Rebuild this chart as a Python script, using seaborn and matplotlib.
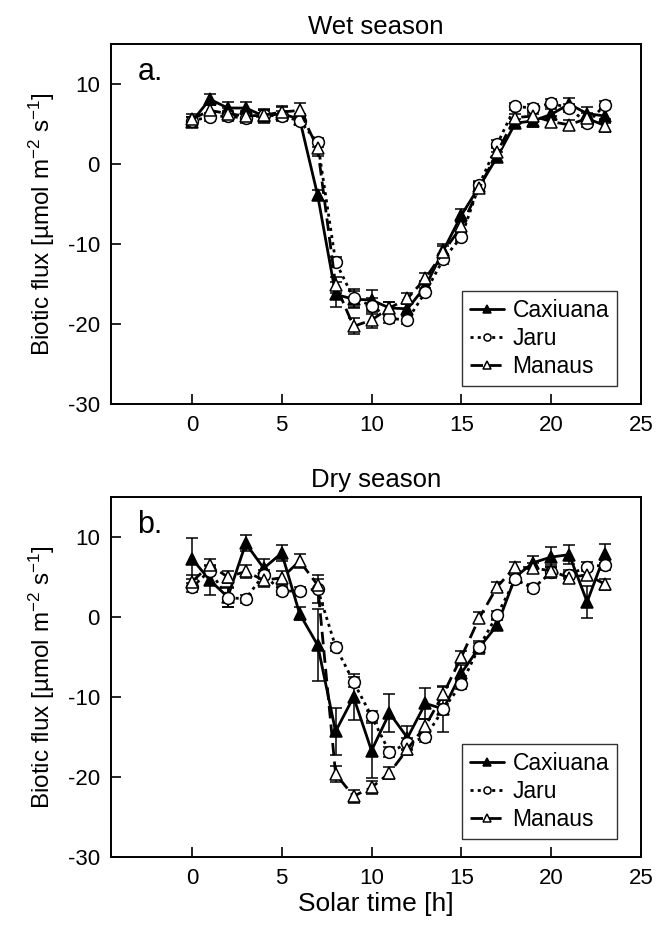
import matplotlib
matplotlib.use("Agg")
import matplotlib.pyplot as plt
import numpy as np
import pandas as pd
import seaborn as sns

hours = list(range(24))

# wet season (a.)
wet_caxiuana = [5.3, 8.1, 7.0, 7.0, 6.0, 6.3, 5.6, -3.9, -16.3, -16.9, -17.0, -18.0, -18.1, -15.3,
                -10.8, -6.4, -2.8, 0.9, 5.1, 5.4, 6.2, 7.5, 6.3, 6.0]
wet_caxiuana_err = [0.6, 0.7, 0.8, 0.8, 0.9, 0.8, 0.6, 0.6, 1.6, 1.0, 1.2, 0.8, 0.6, 0.7,
                    0.8, 0.8, 0.6, 0.6, 0.5, 0.8, 0.7, 0.7, 0.8, 0.9]
wet_jaru = [5.4, 5.9, 6.0, 5.7, 6.1, 6.0, 5.4, 2.7, -12.2, -16.8, -17.7, -19.3, -19.5, -16.0,
            -11.9, -9.1, -2.6, 2.5, 7.2, 7.0, 7.6, 7.0, 5.1, 7.4]
wet_jaru_err = [0.5, 0.5, 0.6, 0.6, 0.7, 0.6, 0.5, 0.6, 0.6, 1.2, 1.0, 0.6, 0.5, 0.5,
                0.6, 0.5, 0.5, 0.5, 0.4, 0.5, 0.5, 0.5, 0.5, 0.5]
wet_manaus = [5.6, 6.7, 6.3, 6.0, 6.1, 6.5, 6.7, 2.0, -15.1, -20.3, -19.5, -18.0, -16.8, -14.3,
              -11.0, -7.8, -3.0, 1.5, 5.8, 6.0, 5.3, 4.9, 5.7, 4.8]
wet_manaus_err = [0.6, 0.7, 0.7, 0.6, 0.7, 0.8, 0.9, 1.0, 1.0, 1.0, 1.0, 0.8, 0.7, 0.7,
                  0.7, 0.7, 0.6, 0.6, 0.5, 0.7, 0.7, 0.6, 0.7, 0.8]

# dry season (b.)
dry_caxiuana = [7.3, 4.6, 2.5, 9.2, 6.1, 8.0, 0.4, -3.5, -14.3, -10.0, -16.7, -12.0, -15.1, -10.8,
                -11.5, -7.0, -3.8, -1.0, 5.0, 6.8, 7.5, 7.8, 1.9, 7.9]
dry_caxiuana_err = [2.6, 1.9, 1.2, 1.0, 1.2, 1.0, 0.8, 4.5, 2.9, 2.9, 3.4, 2.4, 1.5, 1.9,
                    2.9, 1.0, 0.8, 0.6, 0.6, 0.8, 1.2, 1.2, 2.0, 1.2]
dry_jaru = [3.7, 5.8, 2.4, 2.3, 5.3, 3.2, 3.3, 3.5, -3.7, -8.1, -12.4, -16.9, -15.8, -15.0,
            -11.5, -8.4, -3.7, 0.3, 4.7, 3.6, 5.6, 5.3, 6.3, 6.5]
dry_jaru_err = [0.6, 0.6, 1.2, 0.5, 0.6, 0.5, 0.5, 1.7, 0.5, 0.6, 0.6, 0.6, 0.7, 0.6,
                0.6, 0.6, 0.5, 0.5, 0.5, 0.5, 0.7, 0.6, 0.6, 0.6]
dry_manaus = [4.4, 6.5, 5.0, 5.7, 4.6, 4.9, 7.0, 4.0, -19.6, -22.4, -21.3, -19.5, -16.5, -13.6,
              -9.6, -5.0, -0.1, 3.8, 6.3, 6.1, 5.8, 4.9, 5.3, 4.1]
dry_manaus_err = [0.8, 0.8, 0.8, 0.8, 0.8, 0.9, 0.9, 0.8, 1.0, 0.8, 0.8, 0.7, 0.7, 0.8,
                  0.8, 0.7, 0.7, 0.6, 0.6, 0.6, 0.7, 0.7, 0.7, 0.7]

sites = ["Caxiuana", "Jaru", "Manaus"]
styles = {
    "Caxiuana": dict(dashes=None, marker="^", mfc="black"),
    "Jaru": dict(dashes=(1.1, 1.5), marker="o", mfc="white"),
    "Manaus": dict(dashes=(4.5, 2.2), marker="^", mfc="white"),
}

sns.set_style("ticks")
plt.rcParams["font.family"] = ["Liberation Sans", "DejaVu Sans"]
plt.rcParams["mathtext.fontset"] = "custom"
plt.rcParams["mathtext.rm"] = "Liberation Sans"
plt.rcParams["mathtext.it"] = "Liberation Sans"
plt.rcParams["axes.unicode_minus"] = False
plt.rcParams["text.color"] = "black"
plt.rcParams["axes.labelcolor"] = "black"
plt.rcParams["axes.edgecolor"] = "black"
plt.rcParams["xtick.color"] = "black"
plt.rcParams["ytick.color"] = "black"


def make_panel(ax, series, errs, title, letter, show_xlabel):
  rows = []
  for site in sites:
    for h, v in zip(hours, series[site]):
      rows.append({"hour": h, "flux": v, "site": site})
  df = pd.DataFrame(rows)
  for site in sites:
    ax.errorbar(hours, series[site], yerr=errs[site], fmt="none", ecolor="black",
                elinewidth=1.1, capsize=4.5, capthick=1.1, zorder=2)
  for site in sites:
    st = styles[site]
    sns.lineplot(data=df[df.site == site], x="hour", y="flux", ax=ax, color="black",
                 lw=2.0, marker=st["marker"], markersize=8.5, markerfacecolor=st["mfc"],
                 markeredgecolor="black", markeredgewidth=1.1, label=site, zorder=3,
                 estimator=None, errorbar=None)
  for line, site in zip(ax.get_lines()[-3:], sites):
    if styles[site]["dashes"] is not None:
      line.set_dashes(styles[site]["dashes"])
  ax.set_xlim(-4.5, 25)
  ax.set_ylim(-30, 15)
  ax.set_xticks([0, 5, 10, 15, 20, 25])
  ax.set_yticks([-30, -20, -10, 0, 10])
  ax.tick_params(direction="in", length=7, width=1.2, labelsize=16, pad=8)
  for s in ax.spines.values():
    s.set_linewidth(1.4)
  ax.set_title(title, fontsize=18.5, pad=7)
  ax.text(0.05, 0.965, letter, transform=ax.transAxes, fontsize=22, va="top", ha="left")
  ax.set_ylabel("Biotic flux [\u00b5mol m$^{-2}$ s$^{-1}$]", fontsize=17.5, labelpad=8)
  if show_xlabel:
    ax.set_xlabel("Solar time [h]", fontsize=19, labelpad=2)
  else:
    ax.set_xlabel("")
  handles = ax.get_lines()[-3:]
  leg = ax.legend(handles, sites, loc="lower right", bbox_to_anchor=(0.955, 0.05),
                  fontsize=16.5, frameon=True, fancybox=False, edgecolor="black",
                  handlelength=1.5, handletextpad=0.35, borderpad=0.35, labelspacing=0.22,
                  markerscale=0.6, borderaxespad=0.0)
  leg.get_frame().set_linewidth(1.0)


fig = plt.figure(figsize=(6.68, 9.27), dpi=100)
ax1 = fig.add_axes([0.1662, 0.5642, 0.7934, 0.3883])
ax2 = fig.add_axes([0.1662, 0.0755, 0.7934, 0.3883])

make_panel(ax1, {"Caxiuana": wet_caxiuana, "Jaru": wet_jaru, "Manaus": wet_manaus},
           {"Caxiuana": wet_caxiuana_err, "Jaru": wet_jaru_err, "Manaus": wet_manaus_err},
           "Wet season", "a.", False)
make_panel(ax2, {"Caxiuana": dry_caxiuana, "Jaru": dry_jaru, "Manaus": dry_manaus},
           {"Caxiuana": dry_caxiuana_err, "Jaru": dry_jaru_err, "Manaus": dry_manaus_err},
           "Dry season", "b.", True)

plt.savefig("out.png", dpi=100)
